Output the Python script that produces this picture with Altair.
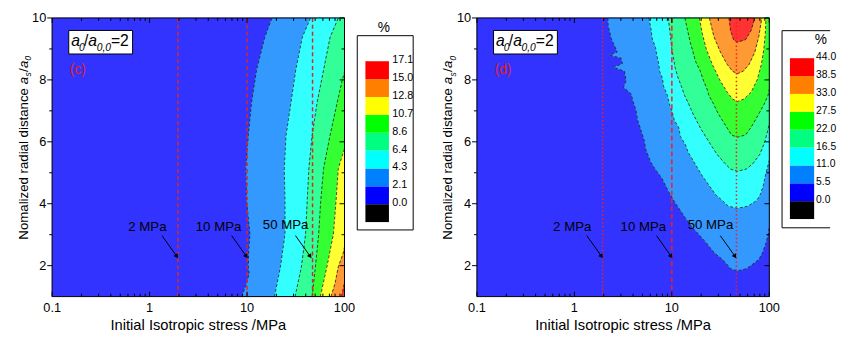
import altair as alt
import pandas as pd

FONT = "Liberation Sans"

# ---------------- values ----------------
LEGEND_LABELS_C = ["0.0", "2.1", "4.3", "6.4", "8.6", "10.7", "12.8", "15.0", "17.1"]
LEGEND_LABELS_D = ["0.0", "5.5", "11.0", "16.5", "22.0", "27.5", "33.0", "38.5", "44.0"]
LEGEND_COLORS = ["#000000", "#0000FF", "#0080FF", "#00FFFF", "#00FF80",
                 "#00FF00", "#FFFF00", "#FF8000", "#FF0000"]
FILL_COLORS = ["#3333FF", "#3399FF", "#33FFFF", "#33FF99",
               "#33FF33", "#FFFF33", "#FF9933", "#FF3333"]

X_MAJOR = [0.1, 1, 10, 100]
X_LABELS = ["0.1", "1", "10", "100"]
X_MINOR = [0.2, 0.3, 0.4, 0.5, 0.6, 0.7, 0.8, 0.9,
           2, 3, 4, 5, 6, 7, 8, 9,
           20, 30, 40, 50, 60, 70, 80, 90]
Y_MAJOR = [2, 4, 6, 8, 10]
Y_LABELS = ["2", "4", "6", "8", "10"]
Y_MINOR = [3, 5, 7, 9]

X_TITLE = "Initial Isotropic stress /MPa"
Y_TITLE_PARTS = ["Nomalized radial distance ", "a", "s", "/", "a", "0"]

# panel (c): contour boundary x (MPa) at radial distance y, region lies to the right
C_BOUNDS = [
    [(1.0, 8.8), (1.43, 9.9), (1.75, 10.5), (1.96, 10.3), (2.5, 10.4), (3.02, 10.7), (4.08, 9.9),
     (5.14, 9.7), (6.2, 10.3), (7.26, 11.1), (8.32, 12.5), (9.38, 15.2), (10.0, 18.0)],
    [(1.0, 19.1), (1.96, 22.0), (3.02, 24.5), (4.08, 24.5), (5.14, 24.1), (6.2, 25.1),
     (7.26, 28.2), (8.32, 31.6), (9.38, 36.9), (10.0, 44.8)],
    [(1.0, 31.1), (1.96, 36.1), (3.02, 39.9), (4.08, 41.4), (5.14, 43.1), (6.2, 46.5),
     (7.26, 52.3), (8.32, 61.0), (9.38, 71.2), (10.0, 86.3)],
    [(1.0, 46.5), (1.96, 50.3), (3.02, 54.3), (4.08, 57.0), (5.14, 61.0), (6.2, 71.0),
     (7.26, 84.0), (8.0, 95.0), (8.25, 100)],
    [(1.0, 56.5), (1.96, 65.9), (3.02, 76.9), (4.08, 81.8), (5.14, 86.3), (5.78, 100)],
    [(1.0, 72.8), (1.43, 80.0), (1.96, 86.3), (2.4, 97.0), (2.6, 100)],
    [(1.0, 93.3), (1.25, 97.0), (1.45, 100)],
]

# panel (d): rows (y, left x, right x) of each nested region
D_REGIONS = [
    [(1.83, 47, 47), (1.90, 40, 58), (1.99, 38, 64), (2.20, 33, 78), (2.41, 27.3, 85), (2.70, 23, 92),
     (3.04, 18.5, 98), (3.25, 16, 100), (3.56, 13.6, 100), (4.09, 10.5, 100), (4.40, 9.2, 100),
     (4.82, 7.9, 100), (5.10, 6.8, 100), (5.35, 6.05, 100), (5.76, 5.39, 100), (6.05, 5.2, 100),
     (6.39, 4.80, 100), (6.70, 4.45, 100), (7.02, 4.28, 100), (7.30, 4.0, 100), (7.55, 3.81, 100),
     (7.76, 3.19, 100), (7.97, 3.39, 100), (8.28, 3.26, 100), (8.41, 2.49, 100), (8.52, 3.1, 100),
     (8.70, 3.02, 100), (8.80, 2.30, 100), (8.90, 2.75, 100), (9.33, 2.39, 100), (9.75, 2.22, 100),
     (10.0, 2.2, 100)],
    [(3.85, 47, 47), (3.92, 38, 60), (4.10, 33, 74), (4.30, 28, 81), (4.60, 24, 87), (4.90, 20.5, 91),
     (5.13, 18.5, 95), (5.40, 16.5, 100), (5.66, 14.7, 100), (5.90, 13.8, 100), (6.18, 12.2, 100),
     (6.45, 11.8, 100), (6.70, 10.6, 100), (7.00, 10.0, 100), (7.23, 9.4, 100), (7.50, 9.0, 100),
     (7.80, 8.2, 100), (8.05, 8.0, 100), (8.27, 7.5, 100), (8.55, 7.3, 100), (8.80, 7.0, 100),
     (9.05, 6.8, 100), (9.32, 6.3, 100), (9.65, 6.1, 100), (10.0, 5.8, 100)],
    [(5.05, 47, 47), (5.12, 40, 58), (5.30, 35, 68), (5.60, 29, 80), (6.00, 24, 90), (6.40, 20, 97),
     (6.60, 18.5, 100), (6.90, 16.5, 100), (7.20, 15, 100), (7.50, 13.5, 100), (7.80, 12.5, 100),
     (8.10, 11.5, 100), (8.40, 10.8, 100), (8.70, 10.4, 100), (9.00, 10.0, 100), (9.50, 9.6, 100),
     (10.0, 9.2, 100)],
    [(6.15, 47, 47), (6.22, 41, 57), (6.50, 36, 66), (6.90, 30, 78), (7.20, 27, 88), (7.50, 24, 97),
     (7.70, 23, 100), (8.00, 21, 100), (8.30, 19.5, 100), (8.60, 17.5, 100), (8.90, 16.5, 100),
     (9.20, 15.5, 100), (9.60, 14.5, 100), (10.0, 13.6, 100)],
    [(7.30, 47, 47), (7.38, 42, 55), (7.60, 37, 65), (8.00, 31, 75), (8.50, 26, 83), (9.00, 22.5, 88),
     (9.50, 20.5, 91), (10.0, 19.2, 92.5)],
    [(8.20, 47, 47), (8.28, 42, 54), (8.50, 37, 62), (8.90, 31.5, 71), (9.40, 27, 78), (10.0, 24.3, 83.7)],
    [(9.22, 47, 47), (9.30, 43, 57), (9.60, 40, 65), (10.0, 38.6, 71)],
]

RED_X_C = [1.95, 10, 47]
RED_DASH_C = ["dash", "dash", "dash"]
RED_X_D = [1.95, 10, 46]
RED_DASH_D = ["dot", "dash", "dot"]

ANNOT_TEXT = ["2 MPa", "10 MPa", "50 MPa"]
ANNOT_X = [0.95, 5.1, 24.9]
ANNOT_Y = [3.26, 3.26, 3.32]
ARROW_X0 = [1.34, 6.95, 31.4]
ARROW_Y0 = [2.97, 2.97, 2.97]
ARROW_X1 = [1.90, 9.84, 44.5]
ARROW_Y1 = [2.30, 2.30, 2.30]

BOX_X = [0.148, 0.669]
BOX_Y = [8.837, 9.597]
BOX_ANCHOR = (0.148, 9.217)
TAG_POS = (0.152, 8.32)

# ---------------- layout constants ----------------
W, H = 298, 284
DEC = W / 3.0
UNIT = H / 9.0
SPACING = 4

XS = alt.Scale(type="log", domain=[0.1, 100], nice=False)
YS = alt.Scale(type="linear", domain=[1, 10], nice=False, zero=False)


def shift_x(x, px):
    return x * 10 ** (px / DEC)


def shift_y(y, px):
    return y + px / UNIT


def X(f):
    return alt.X(f, scale=XS, axis=None)


def Y(f):
    return alt.Y(f, scale=YS, axis=None)


def polygon_rows(region_rows):
    """closed outline of a region: left side bottom->top, then right side top->bottom"""
    left = [(xl, y) for y, xl, xr in region_rows]
    right = [(xr, y) for y, xl, xr in reversed(region_rows)]
    return left + right


def outline(rows):
    left = [(xl, y) for y, xl, xr in reversed(rows)]
    right = []
    for y, xl, xr in rows:
        right.append((xr, y))
        if xr >= 100:
            break
    return left + right[1:]


def text_layer(df, **kw):
    return alt.Chart(df).mark_text(font=FONT, color="black", **kw).encode(
        x=X("x:Q"), y=Y("y:Q"), text="t:N")


def panel(regions, paths, red_x, red_dash, red_color, red_dashes, tag):
    layers = []
    for k, rows in enumerate(regions):
        poly = polygon_rows(rows)
        df = pd.DataFrame(dict(x=[p[0] for p in poly], y=[p[1] for p in poly],
                               o=list(range(len(poly)))))
        layers.append(
            alt.Chart(df).mark_line(fill=FILL_COLORS[k], stroke=FILL_COLORS[k], strokeWidth=0.5,
                                    fillOpacity=1).encode(x=X("x:Q"), y=Y("y:Q"), order="o:Q")
        )
    prow = []
    for g, pts in enumerate(paths):
        for o, (x, y) in enumerate(pts):
            prow.append(dict(g=g, o=o, x=x, y=y))
    layers.append(
        alt.Chart(pd.DataFrame(prow)).mark_line(color="#1a1a1a", strokeWidth=0.8, strokeDash=[3, 2],
                                                clip=True).encode(
            x=X("x:Q"), y=Y("y:Q"), order="o:Q", detail="g:N")
    )
    red = pd.DataFrame(dict(x=red_x, d=red_dash))
    for kind, dash in red_dashes.items():
        sub = red[red.d == kind]
        if len(sub):
            layers.append(alt.Chart(sub).mark_rule(color=red_color, strokeWidth=1.5, strokeDash=dash).encode(
                x=X("x:Q")))
    # frame
    frame = pd.DataFrame([dict(x0=0.1, x1=100, y0=1, y1=10)])
    layers.append(alt.Chart(frame).mark_rect(fillOpacity=0, stroke="black", strokeWidth=1).encode(
        x=X("x0:Q"), x2="x1:Q", y=Y("y0:Q"), y2="y1:Q"))
    # ticks: bottom/top inward, left outward, right inward
    trow = []
    for v in X_MAJOR + X_MINOR:
        L = 5 if v in X_MAJOR else 3
        trow.append(dict(x=v, x2=v, y=1, y2=shift_y(1, L)))
        trow.append(dict(x=v, x2=v, y=shift_y(10, -L), y2=10))
    for v in Y_MAJOR + Y_MINOR:
        L = 5 if v in Y_MAJOR else 3
        trow.append(dict(x=shift_x(0.1, -L), x2=0.1, y=v, y2=v))
        trow.append(dict(x=shift_x(100, -L), x2=100, y=v, y2=v))
    layers.append(alt.Chart(pd.DataFrame(trow)).mark_rule(color="black", strokeWidth=1).encode(
        x=X("x:Q"), x2="x2:Q", y=Y("y:Q"), y2="y2:Q"))
    # tick labels
    xl = pd.DataFrame(dict(x=X_MAJOR, y=[1] * len(X_MAJOR), t=X_LABELS))
    layers.append(text_layer(xl, fontSize=13, align="center", baseline="middle", dy=12))
    yl = pd.DataFrame(dict(x=[0.1] * len(Y_MAJOR), y=Y_MAJOR, t=Y_LABELS))
    layers.append(text_layer(yl, fontSize=13, align="right", baseline="middle", dx=-6))
    # axis titles
    xt = pd.DataFrame([dict(x=10 ** 0.5, y=1, t=X_TITLE)])
    layers.append(text_layer(xt, fontSize=15, align="center", baseline="middle", dy=29.5))
    yt = pd.DataFrame([dict(x=0.1, y=2.84)])
    fs, sfs = 13.5, 8.5
    specs = [(Y_TITLE_PARTS[0], 0, 0, fs, "normal"),
             (Y_TITLE_PARTS[1], 158.5, 0, fs, "italic"),
             (Y_TITLE_PARTS[2], 166.2, 3.5, sfs, "italic"),
             (Y_TITLE_PARTS[3], 171.0, 0, fs, "normal"),
             (Y_TITLE_PARTS[4], 175.0, 0, fs, "italic"),
             (Y_TITLE_PARTS[5], 182.7, 3.5, sfs, "italic")]
    for txt, dx, low, size, st in specs:
        layers.append(alt.Chart(yt).mark_text(text=txt, font=FONT, color="black", fontSize=size,
                                              fontStyle=st, angle=270, align="left",
                                              baseline="alphabetic", dx=dx, dy=-25 + low).encode(
            x=X("x:Q"), y=Y("y:Q")))
    # annotations
    ann = pd.DataFrame(dict(t=ANNOT_TEXT, x=ANNOT_X, y=ANNOT_Y))
    layers.append(text_layer(ann, fontSize=13.5, align="center", baseline="middle"))
    arr = pd.DataFrame(dict(x0=ARROW_X0, y0=ARROW_Y0, x1=ARROW_X1, y1=ARROW_Y1))
    layers.append(alt.Chart(arr).mark_rule(color="black", strokeWidth=1).encode(
        x=X("x0:Q"), x2="x1:Q", y=Y("y0:Q"), y2="y1:Q"))
    layers.append(alt.Chart(arr).mark_point(shape="triangle-up", filled=True, size=26, angle=145,
                                            color="black", opacity=1).encode(x=X("x1:Q"), y=Y("y1:Q")))
    box = pd.DataFrame([dict(x0=BOX_X[0], x1=BOX_X[1], y0=BOX_Y[0], y1=BOX_Y[1])])
    layers.append(alt.Chart(box).mark_rect(fill="white", stroke="black", strokeWidth=1).encode(
        x=X("x0:Q"), x2="x1:Q", y=Y("y0:Q"), y2="y1:Q"))
    anchor = pd.DataFrame([dict(x=BOX_ANCHOR[0], y=BOX_ANCHOR[1])])
    parts = [("a", 2.5, 4, 16, "italic"), ("0", 10.5, 9, 10.5, "italic"), ("/", 15.5, 4, 16, "normal"),
             ("a", 20, 4, 16, "italic"), ("0,0", 28.5, 9, 10.5, "italic"), ("=2", 43, 4, 16, "normal")]
    for txt, dx, dy, size, st in parts:
        layers.append(alt.Chart(anchor).mark_text(text=txt, dx=dx, dy=dy, fontSize=size, fontStyle=st,
                                                  font=FONT, color="black", align="left",
                                                  baseline="alphabetic").encode(x=X("x:Q"), y=Y("y:Q")))
    tagdf = pd.DataFrame([dict(x=TAG_POS[0], y=TAG_POS[1], t=tag)])
    layers.append(alt.Chart(tagdf).mark_text(font=FONT, fontSize=14, color="#E02020", align="left",
                                             baseline="middle").encode(x=X("x:Q"), y=Y("y:Q"), text="t:N"))
    return alt.layer(*layers).properties(width=W, height=H)


def legend(labels, width, sw, lab_x, lab_size, box, pct, idx_range):
    lx = alt.Scale(domain=[0, width], nice=False, zero=False)
    ly = alt.Scale(domain=list(idx_range), nice=False, zero=False)

    def LX(f):
        return alt.X(f, scale=lx, axis=None)

    def LY(f):
        return alt.Y(f, scale=ly, axis=None)

    bdf = pd.DataFrame([dict(x0=box[0], x1=box[1], y0=box[2], y1=box[3])])
    sdf = pd.DataFrame(dict(i0=list(range(9)), i1=list(range(1, 10)), c=LEGEND_COLORS,
                            x0=[sw[0]] * 9, x1=[sw[1]] * 9))
    tdf = pd.DataFrame(dict(i=list(range(1, 10)), t=labels, x=[lab_x] * 9))
    pdf = pd.DataFrame([dict(x=pct[0], y=pct[1], t="%")])
    return alt.layer(
        alt.Chart(bdf).mark_rect(fill="white", stroke="black", strokeWidth=1, clip=True).encode(
            x=LX("x0:Q"), x2="x1:Q", y=LY("y0:Q"), y2="y1:Q"),
        alt.Chart(sdf).mark_rect().encode(x=LX("x0:Q"), x2="x1:Q", y=LY("i0:Q"), y2="i1:Q",
                                          color=alt.Color("c:N", scale=None)),
        alt.Chart(tdf).mark_text(font=FONT, fontSize=lab_size, align="left", baseline="middle", dy=-1,
                                 color="black").encode(x=LX("x:Q"), y=LY("i:Q"), text="t:N"),
        alt.Chart(pdf).mark_text(font=FONT, fontSize=14, align="center", baseline="middle",
                                 color="black").encode(x=LX("x:Q"), y=LY("y:Q"), text="t:N"),
    ).properties(width=width, height=H)


c_regions = [[(1.0, 0.1, 100), (10.0, 0.1, 100)]] + [[(y, x, 100) for y, x in pts] for pts in C_BOUNDS]
c_paths = [[(x, y) for y, x in pts] for pts in C_BOUNDS]
d_regions = [[(1.0, 0.1, 100), (10.0, 0.1, 100)]] + D_REGIONS
d_paths = [outline(r) for r in D_REGIONS]

panel_c = panel(c_regions, c_paths, RED_X_C, RED_DASH_C, "#D42A2A", {"dash": [4, 3]}, "(c)")
panel_d = panel(d_regions, d_paths, RED_X_D, RED_DASH_D, "#FF1A1A", {"dash": [5, 3], "dot": [1.5, 2.5]},
                "(d)")

LC_W = 478 - SPACING - (348 + SPACING) + 5
leg_c = legend(LEGEND_LABELS_C, LC_W, (17.3, 41.3), 44.7, 11, (9, 66, -0.44, 10.43), (36, 10.87),
               (-4.17, 11.42))
LD_W = 58
leg_d = legend(LEGEND_LABELS_D, LD_W, (17, 41.7), 43.7, 10.5, (9, 90, -0.49, 10.54), (48.5, 9.99),
               (-4.34, 11.25))

chart = alt.hconcat(panel_c, leg_c, panel_d, leg_d, spacing=SPACING, bounds="flush").properties(
    padding={"left": 8, "top": 0, "right": 0, "bottom": 0}
).configure_view(stroke="transparent")

chart.save("out.html", embed_options={"renderer": "svg", "actions": False})
